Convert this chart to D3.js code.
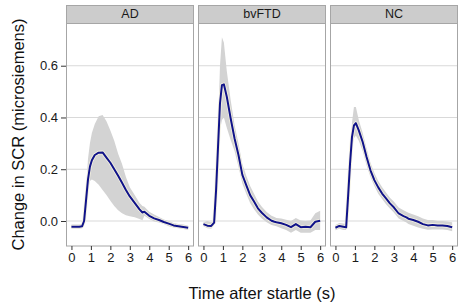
<!DOCTYPE html>
<html>
<head>
<meta charset="utf-8">
<script src="https://cdn.jsdelivr.net/npm/d3@7"></script>
<style>
  body { margin: 0; background: #fff; }
  svg { display: block; font-family: Arial, "Liberation Sans", sans-serif; }
</style>
</head>
<body>
<div id="chart"></div>
<script>
// facet names
const groups = ["AD", "bvFTD", "NC"];

// time grid (s), shared by every facet
const times = [0, 0.2, 0.4, 0.55, 0.65, 0.75, 0.85, 0.95, 1.05, 1.2, 1.4, 1.6, 1.8, 2.0, 2.2, 2.4,
  2.6, 2.8, 3.0, 3.25, 3.5, 3.65, 3.75, 4.0, 4.25, 4.5, 4.75, 5.0, 5.25, 5.5, 5.75, 6.0];

// mean change in SCR
const meanAD = [-0.022, -0.022, -0.022, -0.02, 0.0, 0.08, 0.16, 0.21, 0.235, 0.255, 0.264, 0.265, 0.245, 0.225, 0.2, 0.175,
  0.148, 0.12, 0.095, 0.07, 0.045, 0.033, 0.036, 0.02, 0.01, 0.004, -0.004, -0.01, -0.017, -0.02, -0.023, -0.026];
const meanFTD = [-0.012, -0.018, -0.019, -0.006, 0.12, 0.287, 0.454, 0.525, 0.528, 0.48, 0.396, 0.319, 0.255, 0.178, 0.139, 0.1,
  0.075, 0.049, 0.032, 0.014, 0.001, -0.003, -0.005, -0.009, -0.015, -0.024, -0.012, -0.024, -0.022, -0.024, -0.003, 0.001];
const meanNC = [-0.026, -0.019, -0.022, -0.024, 0.094, 0.222, 0.324, 0.369, 0.378, 0.35, 0.305, 0.247, 0.196, 0.158, 0.13, 0.106,
  0.087, 0.068, 0.053, 0.029, 0.019, 0.014, 0.009, 0.004, -0.003, -0.012, -0.017, -0.015, -0.017, -0.017, -0.019, -0.024];

// lower edge of the band
const loAD = [-0.03, -0.03, -0.03, -0.028, -0.01, 0.06, 0.12, 0.155, 0.16, 0.155, 0.14, 0.12, 0.1, 0.078, 0.058, 0.042,
  0.03, 0.022, 0.018, 0.014, 0.008, 0.003, 0.02, 0.008, -0.002, -0.006, -0.012, -0.02, -0.025, -0.028, -0.031, -0.035];
const loFTD = [-0.02, -0.028, -0.03, -0.015, 0.09, 0.22, 0.35, 0.39, 0.40, 0.36, 0.313, 0.27, 0.21, 0.145, 0.105, 0.07,
  0.045, 0.025, 0.01, -0.005, -0.015, -0.018, -0.02, -0.028, -0.035, -0.045, -0.035, -0.045, -0.045, -0.045, -0.035, -0.035];
const loNC = [-0.036, -0.03, -0.035, -0.035, 0.07, 0.19, 0.28, 0.32, 0.33, 0.31, 0.27, 0.215, 0.17, 0.135, 0.105, 0.085,
  0.065, 0.048, 0.033, 0.01, 0.0, -0.006, -0.012, -0.018, -0.025, -0.03, -0.034, -0.033, -0.033, -0.033, -0.035, -0.04];

// upper edge of the band
const hiAD = [-0.014, -0.014, -0.014, -0.012, 0.02, 0.12, 0.24, 0.30, 0.34, 0.375, 0.405, 0.41, 0.385, 0.35, 0.31, 0.26,
  0.22, 0.17, 0.13, 0.1, 0.07, 0.058, 0.055, 0.036, 0.025, 0.015, 0.006, 0.0, -0.008, -0.012, -0.014, -0.018];
const hiFTD = [-0.005, 0.0, -0.005, 0.005, 0.16, 0.36, 0.6, 0.71, 0.69, 0.58, 0.467, 0.37, 0.30, 0.22, 0.175, 0.135,
  0.105, 0.075, 0.055, 0.035, 0.02, 0.015, 0.012, 0.01, 0.005, 0.0, 0.012, 0.002, 0.0, 0.002, 0.03, 0.04];
const hiNC = [-0.015, -0.008, -0.01, -0.012, 0.12, 0.26, 0.38, 0.44, 0.44, 0.39, 0.34, 0.28, 0.225, 0.185, 0.155, 0.13,
  0.11, 0.09, 0.075, 0.052, 0.042, 0.036, 0.032, 0.025, 0.018, 0.01, 0.004, 0.004, 0.0, 0.0, -0.002, -0.005];

const xTicks = [0, 1, 2, 3, 4, 5, 6];
const yTicks = [0.0, 0.2, 0.4, 0.6];

const means = [meanAD, meanFTD, meanNC];
const lows = [loAD, loFTD, loNC];
const highs = [hiAD, hiFTD, hiNC];

const width = 461, height = 307;
const panelLeft = 66, panelW = 128, gap = 4;
const stripTop = 5, stripH = 18;
const panelTop = stripTop + stripH, panelBottom = 246;

const svg = d3.select("#chart").append("svg")
  .attr("width", width)
  .attr("height", height);

const x = d3.scaleLinear().domain([-0.28, 6.3]).range([0, panelW]);
const y = d3.scaleLinear().domain([-0.0966, 0.765]).range([panelBottom, panelTop]);

groups.forEach((g, i) => {
  const px = panelLeft + i * (panelW + gap);
  const pts = times.map((t, k) => ({t: t, m: means[i][k], lo: lows[i][k], hi: highs[i][k]}));

  const panel = svg.append("g").attr("transform", `translate(${px},0)`);

  panel.append("rect")
    .attr("x", 0).attr("y", panelTop)
    .attr("width", panelW).attr("height", panelBottom - panelTop)
    .attr("fill", "#fff");

  // horizontal grid only
  panel.selectAll("line.grid")
    .data(yTicks)
    .enter().append("line")
    .attr("class", "grid")
    .attr("x1", 0).attr("x2", panelW)
    .attr("y1", d => y(d)).attr("y2", d => y(d))
    .attr("stroke", "#d9d9d9")
    .attr("stroke-width", 1.1);

  const area = d3.area()
    .x(d => x(d.t))
    .y0(d => y(d.lo))
    .y1(d => y(d.hi));

  panel.append("path")
    .datum(pts)
    .attr("d", area)
    .attr("fill", "#d3d3d3");

  const line = d3.line()
    .x(d => x(d.t))
    .y(d => y(d.m));

  panel.append("path")
    .datum(pts)
    .attr("d", line)
    .attr("fill", "none")
    .attr("stroke", "#f4f1e0")
    .attr("stroke-width", 3.6)
    .attr("stroke-linejoin", "round");

  panel.append("path")
    .datum(pts)
    .attr("d", line)
    .attr("fill", "none")
    .attr("stroke", "#10138a")
    .attr("stroke-width", 2)
    .attr("stroke-linejoin", "round");

  // panel border
  panel.append("rect")
    .attr("x", 0.5).attr("y", panelTop)
    .attr("width", panelW - 1).attr("height", panelBottom - panelTop)
    .attr("fill", "none")
    .attr("stroke", "#a6a6a6")
    .attr("stroke-width", 1);

  // strip
  panel.append("rect")
    .attr("x", 0.5).attr("y", stripTop + 0.5)
    .attr("width", panelW - 1).attr("height", stripH)
    .attr("fill", "#cccccc")
    .attr("stroke", "#a6a6a6")
    .attr("stroke-width", 1);

  panel.append("text")
    .attr("x", panelW / 2)
    .attr("y", stripTop + stripH / 2 + 1)
    .attr("text-anchor", "middle")
    .attr("dominant-baseline", "middle")
    .attr("font-size", 12.5)
    .attr("fill", "#1a1a1a")
    .text(g);

  // x axis
  const xAxis = panel.append("g")
    .attr("transform", `translate(0,${panelBottom})`)
    .call(d3.axisBottom(x).tickValues(xTicks).tickSize(4).tickPadding(3).tickFormat(d3.format("d")));
  xAxis.select(".domain").remove();
  xAxis.selectAll("line").attr("stroke", "#333");
  xAxis.selectAll("text").attr("font-size", 13).attr("fill", "#1a1a1a").attr("font-family", null);
});

// y axis on the first panel
const yAxis = svg.append("g")
  .attr("transform", `translate(${panelLeft},0)`)
  .call(d3.axisLeft(y).tickValues(yTicks).tickSize(5).tickPadding(3).tickFormat(d3.format(".1f")));
yAxis.select(".domain").remove();
yAxis.selectAll("line").attr("stroke", "#333");
yAxis.selectAll("text").attr("font-size", 13).attr("fill", "#1a1a1a").attr("font-family", null);

svg.append("text")
  .attr("x", 262)
  .attr("y", 298.5)
  .attr("text-anchor", "middle")
  .attr("font-size", 16.5)
  .attr("fill", "#111")
  .text("Time after startle (s)");

svg.append("text")
  .attr("transform", `translate(24,${(panelTop + panelBottom) / 2}) rotate(-90)`)
  .attr("text-anchor", "middle")
  .attr("font-size", 16.5)
  .attr("fill", "#111")
  .text("Change in SCR (microsiemens)");
</script>
</body>
</html>
